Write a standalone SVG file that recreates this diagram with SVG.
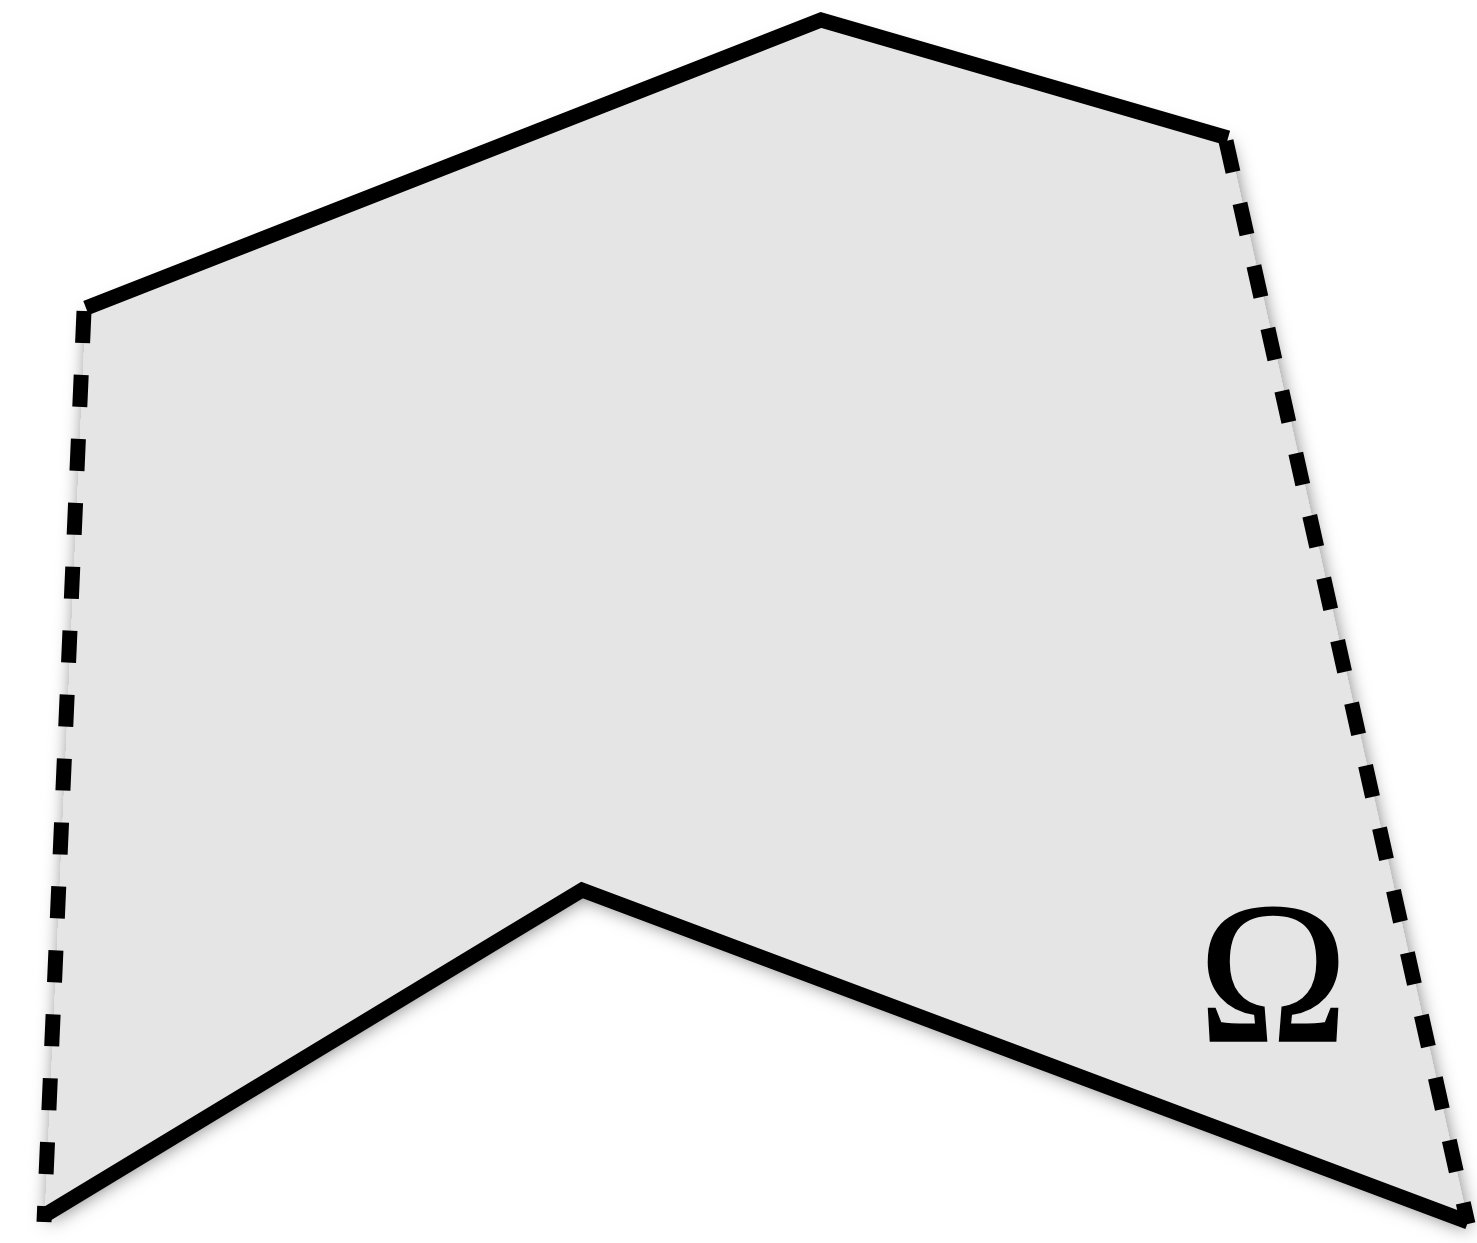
<svg xmlns="http://www.w3.org/2000/svg" width="1477" height="1243" viewBox="0 0 1477 1243">
<style>
.solid{fill:none;stroke:#000;stroke-width:15;stroke-linejoin:miter;stroke-linecap:butt}
.dash{fill:none;stroke:#000;stroke-width:15;stroke-dasharray:32 32;stroke-linecap:butt}
.lbl{font-family:"Liberation Serif","Times New Roman",serif;font-size:202px;fill:#000;stroke:#000;stroke-width:1.5}
</style>
<defs>
<filter id="sh" x="-10%" y="-10%" width="120%" height="120%">
<feDropShadow dx="2" dy="8" stdDeviation="9" flood-color="#000" flood-opacity="0.5"/>
</filter>
</defs>
<g id="region">
<polygon points="86,308 821,20 1228,138 1468,1222 582,890 45,1215" fill="#e5e5e5" filter="url(#sh)"/>
</g>
<g id="edges">
<polyline class="solid" points="86,308 821,20 1228,138"/>
<polyline class="solid" points="45,1215 582,890 1468,1222"/>
<line class="dash" x1="84" y1="311" x2="44" y2="1222"/>
<line class="dash" x1="1226" y1="141" x2="1468" y2="1224"/>
</g>
<g id="label">
<text class="lbl" x="1273" y="1041" text-anchor="middle">Ω</text>
</g>
</svg>
